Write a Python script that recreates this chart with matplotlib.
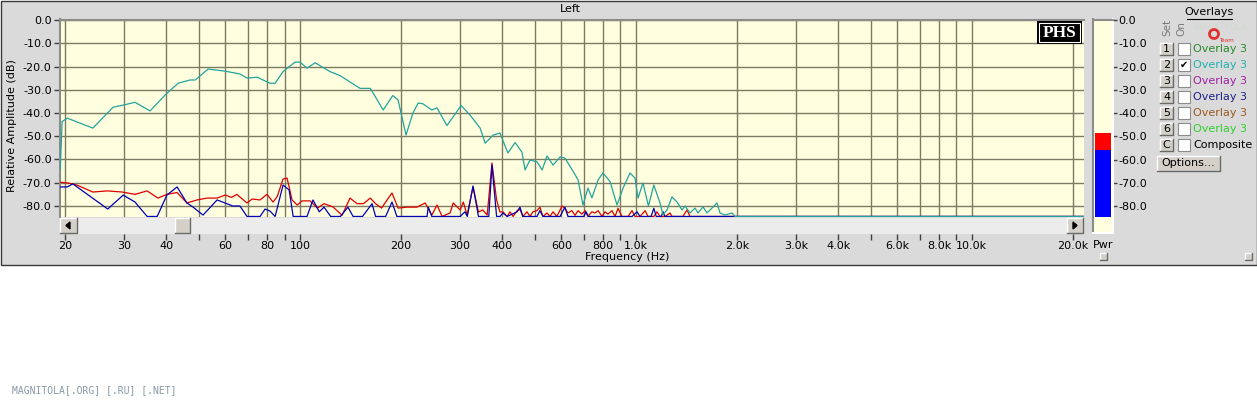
import matplotlib
matplotlib.use("Agg")
import matplotlib.pyplot as plt
from matplotlib.patches import Rectangle, Ellipse, Polygon
from matplotlib.lines import Line2D
from matplotlib.ticker import FixedLocator, NullLocator, FixedFormatter

# ---- data ----
cyan_hz = [19.35, 19.6, 20.3, 24.2, 27.8, 29.8, 32.3, 35.8, 39.7, 43.4,
           47.1, 48.8, 53.3, 59.9, 66.3, 69.6, 74.6, 81.5, 84.4, 89.1,
           96.7, 100, 105, 111, 123, 132, 151, 162, 177, 189,
           196, 207, 217, 225, 232, 247, 256, 274, 302, 321,
           344, 356, 376, 394, 416, 437, 458, 468, 484, 508,
           526, 544, 567, 595, 615, 650, 673, 696, 720, 740,
           772, 798, 838, 879, 916, 961, 994, 1015, 1050, 1090,
           1131, 1180, 1204, 1238, 1281, 1326, 1372, 1401, 1449, 1500,
           1531, 1585, 1628, 1685, 1744, 1780, 1842, 1933, 1973, 21500]
cyan_db = [-64.5, -43.7, -42.2, -46.5, -37.5, -36.6, -35.4, -39.1, -32.3, -27.2,
           -25.8, -25.8, -21.1, -22.0, -23.2, -25.0, -24.6, -27.2, -27.2, -22.2,
           -18.1, -18.1, -20.7, -18.4, -22.2, -24.0, -29.4, -29.4, -38.7, -32.5,
           -34.4, -49.5, -40.0, -35.7, -36.0, -38.7, -37.8, -45.4, -36.8, -40.9,
           -46.5, -53.0, -49.5, -48.6, -57.2, -52.7, -56.8, -64.5, -60.2, -61.0,
           -64.5, -58.5, -62.4, -58.9, -59.4, -65.0, -68.8, -79.6, -72.3, -76.5,
           -68.8, -65.8, -69.5, -79.6, -72.3, -65.8, -68.0, -76.6, -70.1, -80.0,
           -71.0, -78.7, -83.9, -81.7, -76.1, -78.3, -81.7, -80.0, -83.0, -80.9,
           -83.0, -80.4, -83.0, -80.9, -78.7, -83.0, -83.9, -83.0, -84.5, -84.5]

red_hz = [19.1, 20.4, 21.7, 24.2, 26.7, 29.6, 32.3, 35.1, 37.8, 40.2,
          43.1, 46.1, 49.4, 52.9, 56.7, 59.9, 62.6, 64.9, 69.6, 72.1,
          76.1, 79.8, 83.2, 85.6, 89.1, 91.6, 94.8, 98.2, 101.5, 107.2,
          112.8, 118, 125.5, 133.5, 141, 148, 154.6, 162, 168, 175,
          180, 188, 196, 208, 223, 236, 247, 256, 265, 280,
          286, 300, 306.5, 314.5, 327.6, 340, 350, 361, 373, 385,
          394, 402, 414, 422, 431, 443, 452, 461, 474, 484,
          494, 508, 518, 529, 544, 555, 567, 582, 603, 615,
          628, 645, 659, 673, 691, 706, 720, 740, 756, 772,
          793, 810, 826, 849, 867, 885, 909, 948, 974, 994,
          1029, 1065, 1087, 1131, 1156, 1180, 1222, 1264, 1281, 1380,
          1420, 1449, 1552, 21500]
red_db = [-69.7, -70.1, -71.0, -74.0, -73.5, -74.0, -75.0, -73.5, -76.6, -75.0,
          -74.2, -78.7, -77.4, -76.6, -76.6, -75.3, -76.3, -75.0, -78.7, -77.0,
          -77.4, -75.0, -78.3, -76.0, -68.4, -68.0, -77.4, -79.6, -77.8, -77.8,
          -80.9, -79.0, -80.4, -84.0, -76.6, -79.0, -79.0, -76.6, -79.0, -80.9,
          -78.3, -74.4, -80.9, -80.5, -80.5, -78.7, -83.9, -79.6, -84.5, -83.0,
          -78.7, -81.7, -78.3, -83.9, -71.8, -82.6, -81.7, -83.9, -61.5, -77.4,
          -82.6, -82.5, -84.5, -82.5, -84.5, -82.0, -81.5, -84.5, -82.5, -84.5,
          -82.5, -82.0, -80.5, -84.5, -83.0, -84.5, -82.5, -84.5, -80.0, -81.0,
          -83.0, -82.0, -84.0, -82.0, -83.5, -82.0, -84.5, -82.5, -83.0, -82.0,
          -84.5, -82.5, -83.5, -82.0, -84.5, -81.0, -84.5, -84.5, -82.0, -84.5,
          -84.5, -82.0, -84.5, -84.5, -82.5, -84.5, -84.5, -83.0, -84.5, -84.5,
          -81.7, -84.5, -84.5, -84.5]

blue_hz = [19.1, 20.3, 21.1, 26.8, 29.8, 32.3, 35.1, 37.6, 40.2, 43.1,
           46.1, 48.0, 51.5, 56.7, 60.6, 63.1, 66.3, 69.6, 76.1, 78.8,
           81.5, 84.4, 89.1, 92.9, 95.5, 105, 109.4, 114.2, 118, 123.5,
           132, 139, 144, 153.6, 164, 168, 180, 188, 194.4, 239,
           241, 247, 300, 310, 315, 327.6, 340, 365, 373, 385,
           394, 402, 414, 443, 452, 461, 508, 518, 529, 595,
           615, 628, 700, 711, 722, 974, 1008, 1029, 1110, 1131,
           1150, 1190, 1204, 1220, 21500]
blue_db = [-71.8, -71.8, -70.5, -81.3, -75.3, -78.3, -84.5, -84.5, -75.3, -71.8,
           -78.7, -80.4, -83.9, -77.4, -79.0, -80.0, -80.0, -84.5, -84.5, -81.3,
           -82.2, -84.5, -71.0, -73.1, -84.5, -84.5, -77.4, -82.5, -80.5, -84.5,
           -84.5, -80.5, -84.5, -84.5, -79.0, -84.5, -84.5, -78.3, -84.5, -84.5,
           -80.5, -84.5, -84.5, -82.5, -84.5, -71.4, -84.5, -84.5, -62.4, -84.5,
           -84.5, -83.0, -84.5, -82.5, -80.5, -84.5, -84.5, -82.0, -84.5, -84.5,
           -80.5, -84.5, -84.5, -82.5, -84.5, -84.5, -82.5, -84.5, -84.5, -81.0,
           -84.5, -84.5, -82.5, -84.5, -84.5]

grid_hz = [20, 30, 40, 50, 60, 70, 80, 90, 100, 200, 300, 400, 500, 600, 700,
           800, 900, 1000, 2000, 3000, 4000, 5000, 6000, 7000, 8000, 9000,
           10000, 20000]
grid_labels = ['20', '30', '40', '', '60', '', '80', '', '100', '200', '300',
               '400', '', '600', '', '800', '', '1.0k', '2.0k', '3.0k', '4.0k',
               '', '6.0k', '', '8.0k', '', '10.0k', '20.0k']
db_ticks = [0, -10, -20, -30, -40, -50, -60, -70, -80]

pwr_peak = -48.6
pwr_level = -56.0
pwr_floor = -84.7

overlay_keys = ['1', '2', '3', '4', '5', '6', 'C']
overlay_names = ['Overlay 3'] * 6 + ['Composite']
overlay_colors = ['#2a8a2a', '#20b0b0', '#a020a0', '#20208a', '#9a5a20', '#30d030', 'black']
overlay_on = [False, True, False, False, False, False, False]

# ---- figure, pixel helpers (top-left origin) ----
W, H = 1257, 400
fig = plt.figure(figsize=(W / 100, H / 100), dpi=100)
fig.patch.set_facecolor('white')
FACE = '#d4d0c8'


def fx(x):
    return x / W


def fy(y):
    return 1 - y / H


def rect(x0, y0, x1, y1, **kw):
    r = Rectangle((fx(x0), fy(y1)), (x1 - x0) / W, (y1 - y0) / H,
                  transform=fig.transFigure, **kw)
    fig.add_artist(r)
    return r


def text(x, y, s, **kw):
    kw.setdefault('ha', 'center')
    kw.setdefault('va', 'center')
    kw.setdefault('fontsize', 8)
    return fig.text(fx(x), fy(y), s, **kw)


def line(xs, ys, **kw):
    fig.add_artist(Line2D([fx(v) for v in xs], [fy(v) for v in ys],
                          transform=fig.transFigure, **kw))


def button(x0, y0, x1, y1, z=6):
    rect(x0, y0, x1, y1, facecolor=FACE, edgecolor='none', zorder=z)
    line([x0, x0, x1], [y1, y0, y0], color='white', lw=1, zorder=z + 0.1)
    line([x0, x1, x1], [y1, y1, y0], color='#6a6a6a', lw=1, zorder=z + 0.1)


# window panel
rect(0.5, 0.5, 1256.5, 264.5, facecolor='#dadada', edgecolor='#3a3a3a', lw=1, zorder=-5)

# ---- main plot ----
ax = fig.add_axes([fx(60), fy(217.5), (1084 - 60) / W, (217.5 - 19.5) / H])
ax.set_facecolor('#ffffe0')
ax.set_xscale('log')
ax.set_xlim(19.32, 21570)
ax.set_ylim(-84.95, 0.22)
ax.plot(red_hz, red_db, color='#e00000', lw=0.9, zorder=3)
ax.plot(blue_hz, blue_db, color='#0000b4', lw=0.9, zorder=4)
ax.plot(cyan_hz, cyan_db, color='#22a49e', lw=0.9, zorder=5)
ax.xaxis.set_major_locator(FixedLocator(grid_hz))
ax.xaxis.set_minor_locator(NullLocator())
ax.set_yticks(db_ticks)
ax.set_yticklabels([f'{v:.1f}' for v in db_ticks])
ax.set_axisbelow(True)
ax.grid(True, color='#7d7a62', lw=1)
ax.tick_params(axis='x', length=0, labelbottom=False)
ax.tick_params(axis='y', direction='out', length=4, width=1, color='#404040',
               labelsize=8, pad=2)
for s in ['right', 'bottom']:
    ax.spines[s].set_visible(False)
for s in ['top', 'left']:
    ax.spines[s].set_color('#8c8c8c')
    ax.spines[s].set_linewidth(1.5)

# ---- scrollbar strip carrying the frequency ticks ----
sax = fig.add_axes([fx(60), fy(233.5), (1084 - 60) / W, 16 / H])
sax.set_facecolor('#ececec')
sax.set_xscale('log')
sax.set_xlim(19.32, 21570)
sax.set_yticks([])
sax.xaxis.set_major_locator(FixedLocator(grid_hz))
sax.xaxis.set_major_formatter(FixedFormatter(grid_labels))
sax.xaxis.set_minor_locator(NullLocator())
sax.tick_params(axis='x', direction='out', length=4, width=1, color='#404040',
                labelsize=8, pad=1.5)
for s in sax.spines.values():
    s.set_visible(False)

button(60, 218, 77, 233)
button(1067, 218, 1083, 233)
button(175, 218, 190, 233)
fig.add_artist(Polygon([[fx(66), fy(225.5)], [fx(70), fy(222)], [fx(70), fy(229)]],
                       closed=True, transform=fig.transFigure, color='black', zorder=7))
fig.add_artist(Polygon([[fx(1077), fy(225.5)], [fx(1073), fy(222)], [fx(1073), fy(229)]],
                       closed=True, transform=fig.transFigure, color='black', zorder=7))

text(570, 9, 'Left')
text(12, 126, 'Relative Amplitude (dB)', rotation=90)
text(627, 257, 'Frequency (Hz)')

# PHS badge
rect(1037, 21, 1082, 44, facecolor='black', edgecolor='none', zorder=6)
rect(1039, 23, 1080, 42, fill=False, edgecolor='white', lw=0.8, zorder=6.5)
text(1059.5, 33, 'PHS', color='white', fontsize=12.5, weight='bold',
     family=['Liberation Serif', 'DejaVu Serif'], zorder=7)

# ---- power meter ----
mx = fig.add_axes([fx(1093), fy(233), 20 / W, (233 - 19.5) / H])
mx.set_facecolor('#ffffe0')
mx.set_xlim(0, 1)
mx.set_ylim(-(233 - 20) / 2.325, 0.22)
mx.bar(0.5, pwr_level - pwr_floor, bottom=pwr_floor, width=0.8, color='#0000ff')
mx.bar(0.5, pwr_peak - pwr_level, bottom=pwr_level, width=0.8, color='#ff0000')
mx.set_xticks([])
mx.yaxis.tick_right()
mx.set_yticks(db_ticks)
mx.set_yticklabels([f'{v:.1f}' for v in db_ticks])
mx.tick_params(axis='y', direction='out', length=3, width=1, color='#404040',
               labelsize=8, pad=1)
for s in ['top', 'left']:
    mx.spines[s].set_color('#8c8c8c')
    mx.spines[s].set_linewidth(1.5)
for s in ['right', 'bottom']:
    mx.spines[s].set_color('white')
    mx.spines[s].set_linewidth(1.5)
text(1103, 245, 'Pwr')
button(1100, 253, 1107, 260)
button(1245, 253, 1252, 260)

# ---- overlays panel ----
text(1209, 12, 'Overlays', fontsize=8)
line([1187, 1232], [18.5, 18.5], color='black', lw=0.8)
text(1221, 28, 'MAGNITOLA', color='#cfdacf', fontsize=6.5, zorder=1)
fig.add_artist(Ellipse((fx(1214), fy(34)), 9 / W, 9 / H, transform=fig.transFigure,
                       fill=False, edgecolor='#e03030', lw=2, zorder=2))
text(1226, 41, 'Team', color='#e03030', fontsize=4, zorder=2)
text(1167, 27, 'Set', rotation=90, color='#7a7a7a', fontsize=7.5, zorder=3)
text(1181, 29, 'On', rotation=90, color='#7a7a7a', fontsize=7.5, zorder=3)

row_y = 49
for key, name, col, on in zip(overlay_keys, overlay_names, overlay_colors, overlay_on):
    button(1160, row_y - 6, 1173, row_y + 6)
    text(1166.5, row_y, key, zorder=8)
    rect(1178, row_y - 6, 1190, row_y + 6, facecolor='white', edgecolor='#8c8c8c',
         lw=0.8, zorder=6)
    if on:
        text(1184, row_y, '\u2714', fontsize=7, zorder=8)
    text(1193, row_y, name, color=col, ha='left', zorder=8)
    row_y += 16

button(1157, 156, 1220, 171)
text(1188.5, 163, 'Options...', zorder=8)

# watermark below the window
text(12, 390, 'MAGNITOLA[.ORG] [.RU] [.NET]', ha='left', family='DejaVu Sans Mono',
     fontsize=7, color='#8898a8')

fig.savefig('out.png', dpi=100)
